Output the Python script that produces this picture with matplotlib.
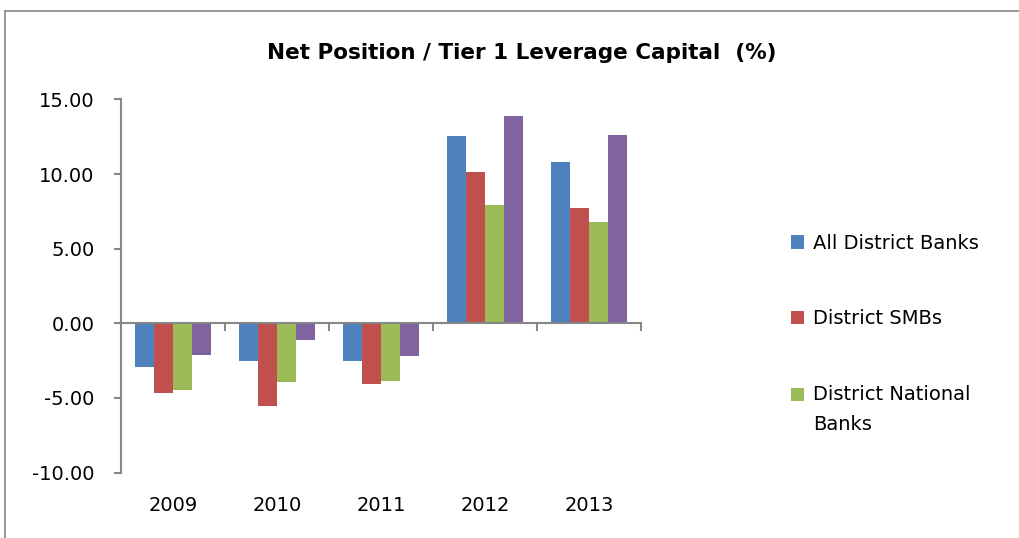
import matplotlib
matplotlib.use('Agg')
import matplotlib.pyplot as plt
import numpy as np
from matplotlib.lines import Line2D
from matplotlib.legend_handler import HandlerPatch

plt.rcParams['font.family'] = ['DejaVu Sans']

# Data
years = ['2009', '2010', '2011', '2012', '2013']
all_district = [-2.90, -2.55, -2.52, 12.52, 10.82]
district_smbs = [-4.65, -5.52, -4.07, 10.15, 7.70]
district_national = [-4.47, -3.95, -3.84, 7.93, 6.80]
other_series = [-2.10, -1.12, -2.17, 13.90, 12.61]

series = [all_district, district_smbs, district_national, other_series]
labels = ['All District Banks', 'District SMBs', 'District National\nBanks']
colors = ['#4F81BD', '#C0504D', '#9BBB59', '#8064A2']


# legend marker aligned with the first line of a two-line label
class FirstLineHandler(HandlerPatch):
    def create_artists(self, legend, orig_handle, xdescent, ydescent,
                       width, height, fontsize, trans):
        arts = super().create_artists(legend, orig_handle, xdescent, ydescent,
                                      width, height, fontsize, trans)
        for a in arts:
            a.set_y(a.get_y() + 0.8 * fontsize)
        return arts


fig = plt.figure(figsize=(10.2, 5.38), dpi=100)
ax = fig.add_axes([0.1186, 0.1216, 0.5098, 0.6936])

x = np.arange(len(years))
width = 0.183
bars = []
for i, (vals, col) in enumerate(zip(series, colors)):
    b = ax.bar(x + (i - 1.5) * width, vals, width, color=col, zorder=2)
    bars.append(b)

ax.set_xlim(-0.5, len(years) - 0.5)
ax.set_ylim(-10, 15)
yt = np.arange(-10, 15.1, 5)
ax.set_yticks(yt)
ax.set_yticklabels([f'{v:.2f}' for v in yt])

axis_gray = '#868686'
for s in ['top', 'right']:
    ax.spines[s].set_visible(False)
ax.spines['left'].set_color(axis_gray)
ax.spines['left'].set_linewidth(1.5)
ax.spines['bottom'].set_position(('data', 0))
ax.spines['bottom'].set_color(axis_gray)
ax.spines['bottom'].set_linewidth(1.5)

ax.set_xticks(np.arange(0.5, len(years), 1))
ax.tick_params(axis='x', direction='out', length=6, width=1.5, color=axis_gray,
               labelbottom=False)
ax.tick_params(axis='y', direction='out', length=5, width=1.5, color=axis_gray,
               labelsize=14, pad=14)

sec = ax.secondary_xaxis(0.0)
sec.set_xticks(x)
sec.set_xticklabels(years)
sec.tick_params(length=0, labelsize=14, pad=17)
sec.spines['bottom'].set_visible(False)

fig.text(0.512, 0.902, 'Net Position / Tier 1 Leverage Capital  (%)',
         ha='center', va='center', fontsize=15.5, fontweight='bold')

handles = [b.patches[0] for b in bars[:3]]
leg = fig.legend(handles, labels,
                 loc='center left', bbox_to_anchor=(0.766, 0.379),
                 frameon=False, fontsize=14, labelspacing=2.9,
                 handlelength=0.68, handleheight=0.68, handletextpad=0.45,
                 borderpad=0,
                 handler_map={handles[2]: FirstLineHandler()})
leg.get_texts()[2].set_linespacing(1.78)

# outer chart border (partially cropped)
fig.add_artist(Line2D([5 / 1020, 5 / 1020], [0, 1 - 11 / 538],
                      transform=fig.transFigure, color=axis_gray, lw=1.2))
fig.add_artist(Line2D([5 / 1020, 1], [1 - 11 / 538, 1 - 11 / 538],
                      transform=fig.transFigure, color=axis_gray, lw=1.2))

fig.savefig('out.png', dpi=100)
